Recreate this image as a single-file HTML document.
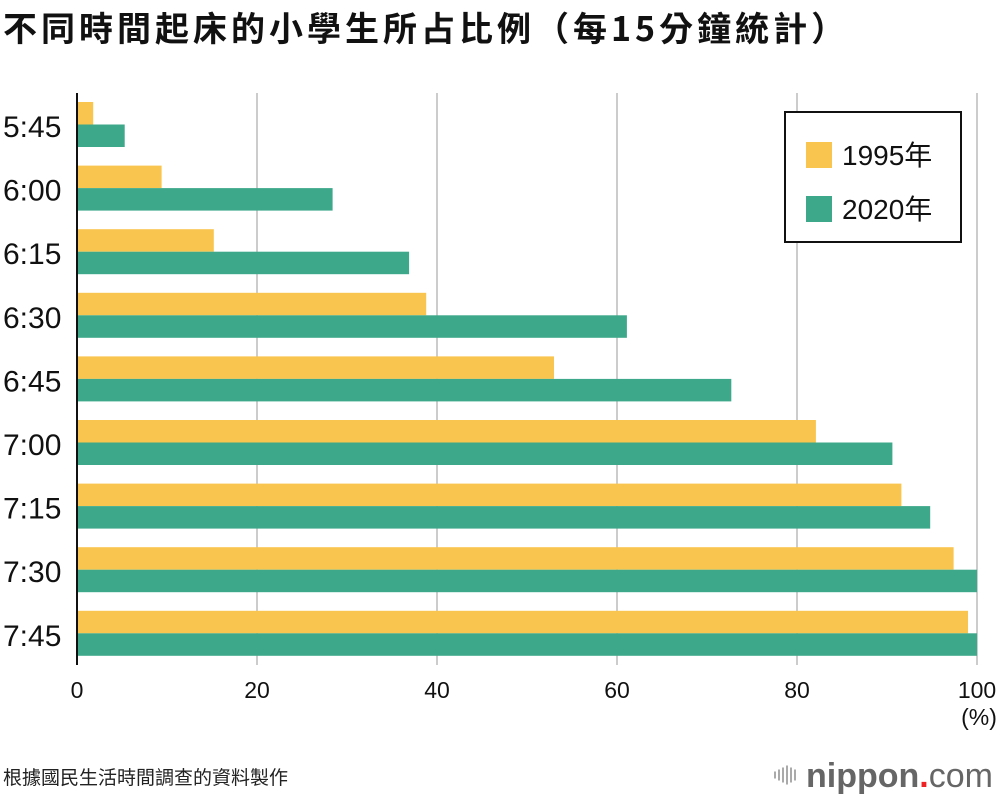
<!DOCTYPE html>
<html><head><meta charset="utf-8">
<style>
body{margin:0;background:#fff;width:1000px;height:796px;overflow:hidden;font-family:"Liberation Sans","Noto Sans CJK TC",sans-serif;}
#title{position:absolute;left:3px;top:2px;font-size:34px;letter-spacing:4px;font-weight:bold;color:#111;white-space:nowrap;font-family:"Noto Sans CJK TC","Liberation Sans",sans-serif;}
#src{position:absolute;left:3px;top:763px;font-size:19px;color:#222;font-family:"Noto Sans CJK TC",sans-serif;}
</style></head><body>
<div id="title">不同時間起床的小學生所占比例（每15分鐘統計）</div>
<svg id="chart" width="1000" height="796" style="position:absolute;left:0;top:0"></svg>
<div id="src">根據國民生活時間調查的資料製作</div>
<script>
const categories=["5:45","6:00","6:15","6:30","6:45","7:00","7:15","7:30","7:45"];
const values1995=[1.8,9.4,15.2,38.8,53,82.1,91.6,97.4,99];
const values2020=[5.3,28.4,36.9,61.1,72.7,90.6,94.8,100,100];
const ticks=[0,20,40,60,80,100];
const NS="http://www.w3.org/2000/svg";
const svg=document.getElementById('chart');
const x=v=>77+v*9;
const bandTop=i=>102+i*63.6;
function mk(t,a){const e=document.createElementNS(NS,t);for(const k in a)e.setAttribute(k,a[k]);svg.appendChild(e);return e;}
ticks.forEach(t=>{
 if(t>0){const g=mk('line',{x1:x(t),x2:x(t),y1:93,y2:665,stroke:'#ccc','stroke-width':2});
 
 }
 const tx=mk('text',{x:x(t),y:698,'font-size':23,'text-anchor':'middle',fill:'#111'});
 tx.textContent=t;
 
 
});
const pc=mk('text',{x:979,y:725,'font-size':23,'text-anchor':'middle',fill:'#111'});pc.textContent='(%)';


categories.forEach((c,i)=>{
 const t=bandTop(i);
 const b1=mk('rect',{x:x(0),y:t,width:x(values1995[i])-x(0),height:22.5,fill:'#F9C54E'});
 
 
 const b2=mk('rect',{x:x(0),y:t+22.5,width:x(values2020[i])-x(0),height:22.5,fill:'#3DA98A'});
 
 
 const l=mk('text',{x:3,y:t+35,'font-size':30,fill:'#111'});l.textContent=c;
 
 
});
const ax=mk('line',{x1:77,x2:77,y1:93,y2:665,stroke:'#111','stroke-width':2});


const lg=mk('rect',{x:785,y:112,width:176,height:130,fill:'#fff',stroke:'#111','stroke-width':2});


[["1995年","#F9C54E",155],["2020年","#3DA98A",209]].forEach(([n,col,cy])=>{
 const s=mk('rect',{x:806,y:cy-13,width:26,height:26,fill:col});
 
 
 const t=mk('text',{x:842,y:cy+10,'font-size':28,fill:'#111'});t.textContent=n;
 
 
});
const lgo=mk('g',{});


[[774,7],[778,11],[782,15],[786,19],[790,15],[794,11]].forEach(([lx,h])=>{
 const r=document.createElementNS(NS,'rect');r.setAttribute('x',lx);r.setAttribute('y',775-h/2);r.setAttribute('width',2);r.setAttribute('height',h);r.setAttribute('fill','#aaa');lgo.appendChild(r);});
const lt=mk('text',{x:806,y:787,'font-size':34,fill:'#666','font-weight':'bold'});
lt.innerHTML='nippon<tspan fill="#e22">.</tspan><tspan font-weight="normal">com</tspan>';
</script>
</body></html>
